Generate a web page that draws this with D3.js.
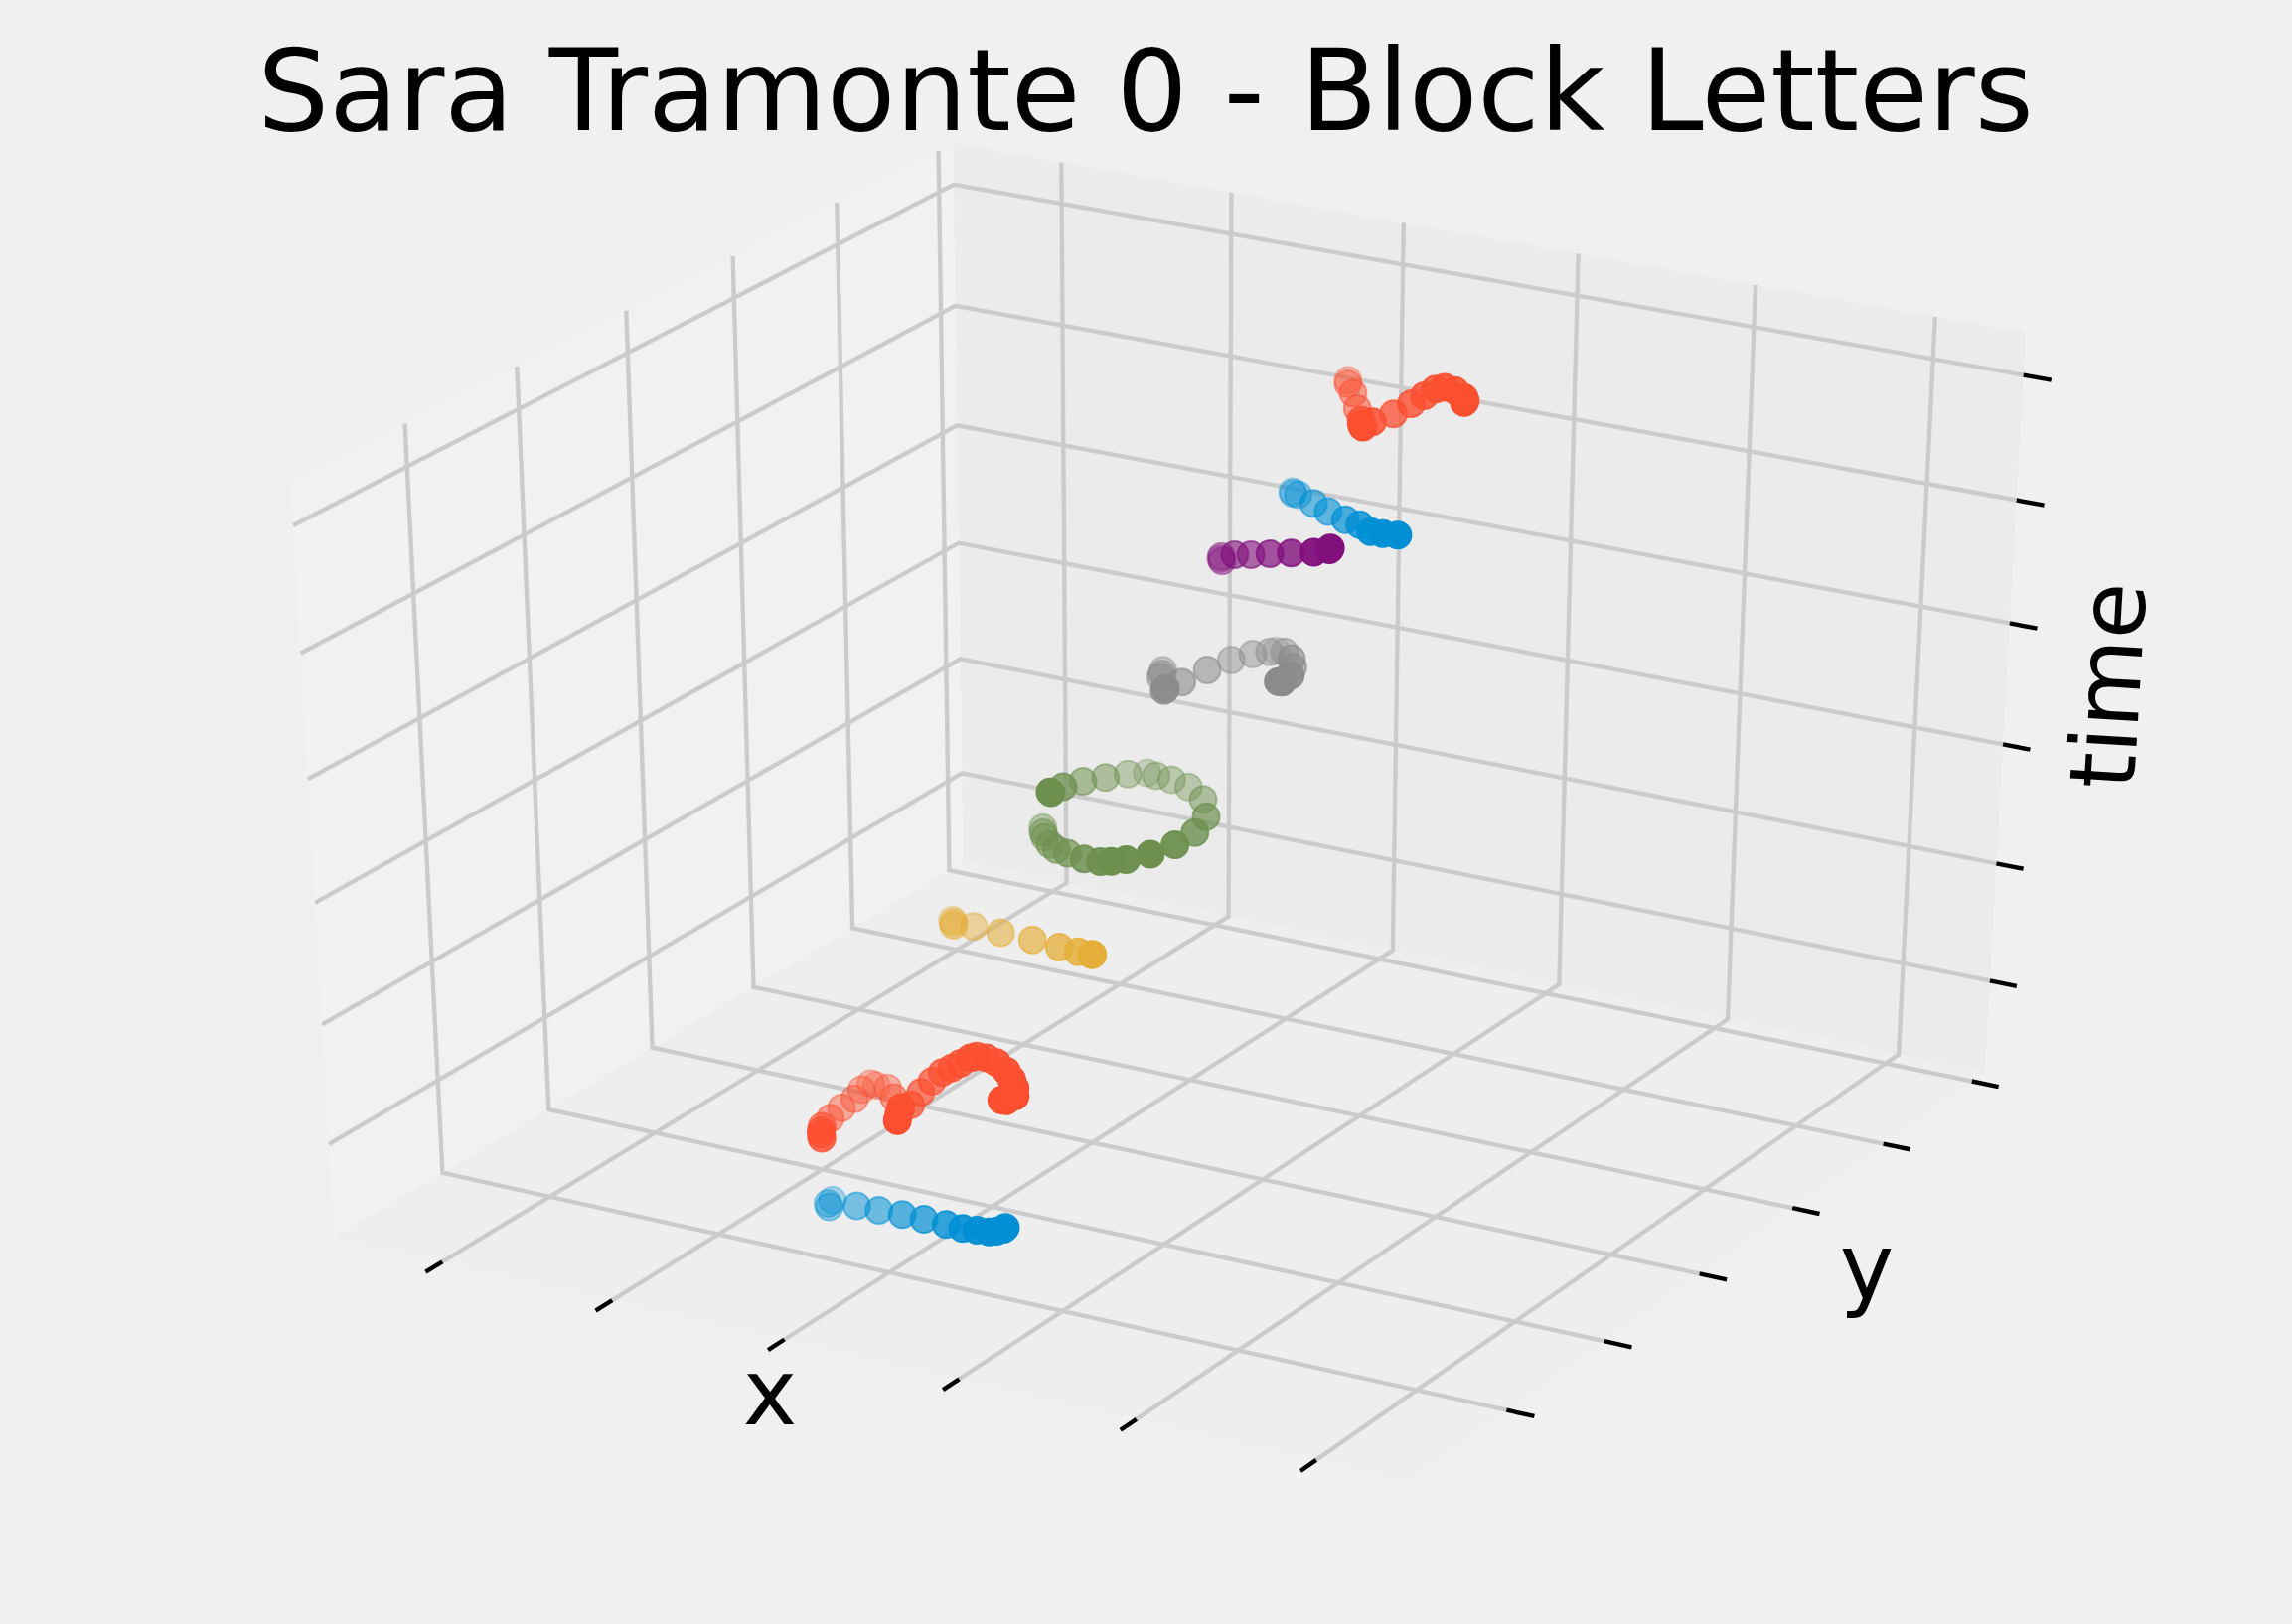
<!DOCTYPE html>
<html>
<head>
<meta charset="utf-8">
<title>Sara Tramonte 0 - Block Letters</title>
<script src="https://d3js.org/d3.v7.min.js"></script>
<style>
html, body { margin: 0; background: #f0f0f0; }
text { font-family: "DejaVu Sans"; fill: #000; }
</style>
</head>
<body>
<div id="my_dataviz"></div>
<script>
var width = 2307, height = 1635;

var xTicks = [0, 20, 40, 60, 80, 100],
    yTicks = [0, 20, 40, 60, 80, 100],
    tTicks = [0, 20, 40, 60, 80, 100];

// one stroke per colour, x / y / time
var blueX = [30.9,30.7,31.6,34.9,37.4,40.5,43.0,46.0,48.5,50.2,51.8,52.4,52.9,53.0];
var blueY = [3.4,4.6,2.5,2.4,2.5,1.9,1.9,1.2,0.2,0.1,-0.2,0.2,0.7,0.9];
var blueT = [-8.9,-9.1,-8.8,-7.5,-7.5,-6.9,-6.9,-6.4,-5.7,-5.4,-5.0,-4.9,-4.7,-4.5];

var redX = [30.0,31.0,31.6,32.3,29.5,29.6,30.4,30.2,30.3,30.4,32.4,34.2,40.0,39.9,38.9,37.8,38.2,38.8,39.8,40.9,41.5,42.6,43.1,44.0,45.5,47.1,48.3,48.9,49.2,48.6,48.2];
var redY = [4.1,2.3,1.3,0.3,6.5,8.5,9.7,11.4,13.0,13.9,12.8,11.0,2.1,2.6,4.6,8.3,9.6,10.8,11.1,11.1,11.8,11.9,12.3,12.7,12.1,11.3,10.3,9.9,9.4,8.7,8.5];
var redT = [3.4,4.0,4.1,4.2,3.3,4.0,5.1,5.7,5.9,5.1,5.9,5.8,8.6,9.4,9.1,7.2,8.7,10.1,11.7,12.8,13.4,14.6,14.8,14.6,14.6,14.1,13.6,12.6,11.6,11.0,11.1];

var yellowX = [31.0,32.6,33.2,34.5,38.0,41.9,45.4,48.1,50.7,50.8];
var yellowY = [28.0,25.6,24.6,26.3,25.7,25.3,24.6,23.7,21.9,21.9];
var yellowT = [25.6,26.9,27.1,26.4,26.7,26.9,27.1,27.6,28.9,28.9];

var greenX = [41.4,41.5,40.0,39.7,41.0,41.9,42.6,44.4,45.9,47.6,50.2,52.9,53.4,53.5,52.2,50.3,49.1,47.7,45.3,42.3,40.3,39.1,37.9,37.6,36.5];
var greenY = [29.8,29.8,34.7,39.1,41.3,44.2,46.8,45.5,46.0,46.4,44.8,40.7,37.6,33.5,30.9,29.4,28.5,28.8,29.7,31.6,32.8,33.6,34.6,34.8,36.6];
var greenT = [48.8,48.7,46.8,45.4,45.3,44.7,43.8,44.5,44.0,43.1,42.6,42.6,41.7,41.8,41.2,40.5,40.3,39.7,39.0,38.1,37.5,37.6,37.9,38.5,38.1];

var greyX = [41.2,42.2,42.2,46.7,44.8,45.1,46.4,47.2,48.8,50.2,49.4,51.5,53.7,54.1,56.9,57.3,57.0,57.3];
var greyY = [52.4,50.5,50.2,43.4,46.4,49.4,52.2,55.6,57.1,58.0,60.8,58.8,56.3,55.9,50.4,48.1,47.8,48.0];
var greyT = [57.5,58.1,57.7,60.4,58.1,58.1,59.1,59.3,60.0,60.3,58.9,60.3,61.0,59.9,62.0,62.4,62.3,62.2];

var purpleX = [41.3,42.2,42.4,45.1,46.5,49.0,51.7,55.0,56.7,56.7];
var purpleY = [63.8,62.3,62.1,59.9,60.7,60.1,59.6,58.3,58.4,58.6];
var purpleT = [70.3,71.6,71.0,73.8,73.8,74.9,76.0,77.6,78.4,78.6];

var blue2X = [45.1,45.7,46.6,49.6,51.6,54.3,56.6,59.1,60.7,62.0];
var blue2Y = [71.5,70.6,70.0,67.8,67.2,65.9,64.7,62.4,62.0,62.7];
var blue2T = [78.6,78.9,79.2,79.6,79.1,79.1,79.5,80.1,80.4,80.2];

var red2X = [45.9,47.4,48.6,50.0,53.0,55.0,55.2,54.5,55.1,56.7,58.0,58.7,59.9,60.9,62.8,63.0,63.0];
var red2Y = [81.2,78.5,77.4,75.8,71.2,67.7,67.6,70.8,74.0,74.7,75.0,76.0,75.7,76.0,74.4,74.3,74.1];
var red2T = [92.4,93.4,92.7,91.3,92.3,93.7,93.4,92.6,92.6,94.3,95.8,96.6,97.3,96.9,97.0,96.6,96.4];

var strokes = [
  {color: "#008fd5", x: blueX, y: blueY, t: blueT},
  {color: "#fc4f30", x: redX, y: redY, t: redT},
  {color: "#e5ae38", x: yellowX, y: yellowY, t: yellowT},
  {color: "#6d904f", x: greenX, y: greenY, t: greenT},
  {color: "#8b8b8b", x: greyX, y: greyY, t: greyT},
  {color: "#810f7c", x: purpleX, y: purpleY, t: purpleT},
  {color: "#008fd5", x: blue2X, y: blue2Y, t: blue2T},
  {color: "#fc4f30", x: red2X, y: red2Y, t: red2T}
];

// data to unit cube
var x = d3.scaleLinear().domain([-12.87, 109.98]).range([0, 1]);
var y = d3.scaleLinear().domain([-19.9, 102.95]).range([0, 1]);
var t = d3.scaleLinear().domain([-15.8, 106.7]).range([0, 1]);

// projected plane to pixels
var sx = d3.scaleLinear().domain([-0.1, 0.1]).range([1180 - 1246.2, 1180 + 1246.2]);
var sy = d3.scaleLinear().domain([-0.1, 0.1]).range([794.5 + 868.1, 794.5 - 868.1]);

// camera: elev 30, azim -60, dist 10
var elev = 30 * Math.PI / 180, azim = -60 * Math.PI / 180, dist = 10;
var n = [Math.cos(azim) * Math.cos(elev), Math.sin(azim) * Math.cos(elev), Math.sin(elev)];
var u = [-Math.sin(azim), Math.cos(azim), 0];
var v = [n[1] * u[2] - n[2] * u[1], n[2] * u[0] - n[0] * u[2], n[0] * u[1] - n[1] * u[0]];

function dot(a, b) { return a[0] * b[0] + a[1] * b[1] + a[2] * b[2]; }
function depth(a, b, c) { return dot(n, [a - 0.5, b - 0.5, c - 0.5]); }
function proj(a, b, c) {
  var q = [a - 0.5, b - 0.5, c - 0.5], w = dist - dot(n, q);
  return [sx(dot(u, q) / w), sy(dot(v, q) / w)];
}

var svg = d3.select("#my_dataviz")
  .append("svg")
  .attr("width", width)
  .attr("height", height)
  .style("display", "block");

var line = d3.line();

// panes
var panes = [
  {fill: "#f1f1f1", c: [[0,0,0],[0,1,0],[0,1,1],[0,0,1]]},
  {fill: "#ebebeb", c: [[0,1,0],[1,1,0],[1,1,1],[0,1,1]]},
  {fill: "#eeeeee", c: [[0,0,0],[1,0,0],[1,1,0],[0,1,0]]}
];
svg.append("g").selectAll("path").data(panes).enter().append("path")
  .attr("d", function(d) { return line(d.c.map(function(p) { return proj(p[0], p[1], p[2]); })) + "Z"; })
  .attr("fill", function(d) { return d.fill; });

// grid lines
var grid = [];
xTicks.forEach(function(d) { var a = x(d); grid.push([[a,0,0],[a,1,0],[a,1,1]]); });
yTicks.forEach(function(d) { var b = y(d); grid.push([[1,b,0],[0,b,0],[0,b,1]]); });
tTicks.forEach(function(d) { var c = t(d); grid.push([[0,0,c],[0,1,c],[1,1,c]]); });
svg.append("g").selectAll("path").data(grid).enter().append("path")
  .attr("d", function(d) { return line(d.map(function(p) { return proj(p[0], p[1], p[2]); })); })
  .attr("fill", "none")
  .attr("stroke", "#cbcbcb")
  .attr("stroke-width", 4.4);

// tick marks
var tickLen = 0.025, ticks = [];
xTicks.forEach(function(d) { var a = x(d); ticks.push([[a,0,0],[a,-tickLen,0]]); });
yTicks.forEach(function(d) { var b = y(d); ticks.push([[1,b,0],[1 + tickLen,b,0]]); });
tTicks.forEach(function(d) { var c = t(d); ticks.push([[1,1,c],[1 + tickLen,1,c]]); });
svg.append("g").selectAll("path").data(ticks).enter().append("path")
  .attr("d", function(d) { return line(d.map(function(p) { return proj(p[0], p[1], p[2]); })); })
  .attr("fill", "none")
  .attr("stroke", "#000")
  .attr("stroke-width", 4.4);

// points, depth shaded per stroke, far ones first
strokes.forEach(function(s) {
  var pts = s.x.map(function(d, i) {
    var a = x(d), b = y(s.y[i]), c = t(s.t[i]);
    return {p: proj(a, b, c), z: depth(a, b, c)};
  }).sort(function(p, q) { return p.z - q.z; });
  var alpha = d3.scaleLinear().domain(d3.extent(pts, function(d) { return d.z; })).range([0.3, 1]);
  svg.append("g").selectAll("circle").data(pts).enter().append("circle")
    .attr("cx", function(d) { return d.p[0]; })
    .attr("cy", function(d) { return d.p[1]; })
    .attr("r", 13.5)
    .attr("fill", s.color)
    .attr("stroke", s.color)
    .attr("stroke-width", 2)
    .attr("fill-opacity", function(d) { return alpha(d.z); })
    .attr("stroke-opacity", function(d) { return alpha(d.z); });
});

// title and axis labels
svg.append("text").attr("x", 1153).attr("y", 131)
  .attr("text-anchor", "middle").style("font-size", "113.4px")
  .text("Sara Tramonte 0 - Block Letters");
svg.append("text").attr("x", 775).attr("y", 1434)
  .attr("text-anchor", "middle").style("font-size", "92px").text("x");
svg.append("text").attr("x", 1879).attr("y", 1308)
  .attr("text-anchor", "middle").style("font-size", "92px").text("y");
svg.append("text")
  .attr("transform", "translate(2154,692) rotate(-86.6)")
  .attr("text-anchor", "middle").style("font-size", "92px").text("time");
</script>
</body>
</html>
